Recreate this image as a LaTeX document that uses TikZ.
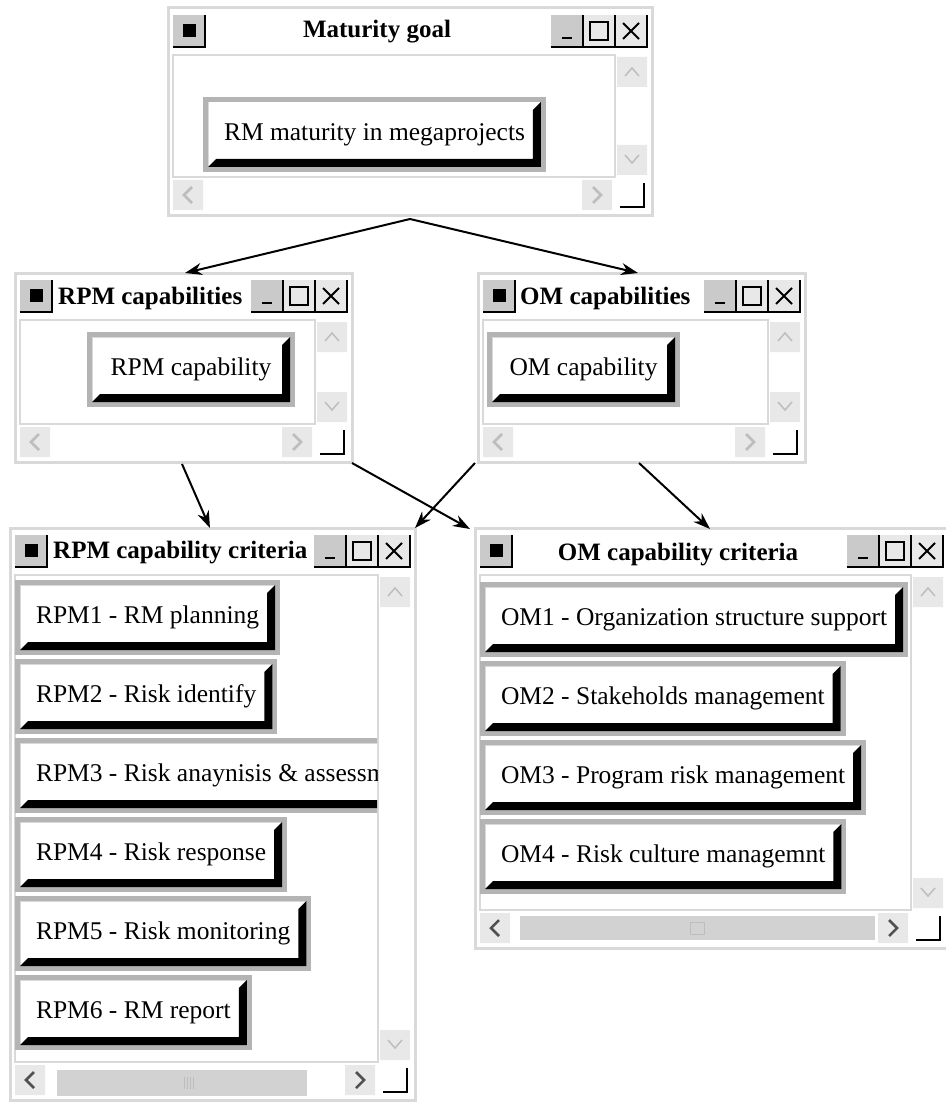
\documentclass[tikz,border=0pt]{standalone}
\usepackage{fontspec}
\setmainfont{Liberation Serif}
\usetikzlibrary{arrows.meta,positioning}
\definecolor{frmgray}{HTML}{D9D9D9}
\definecolor{btngray}{HTML}{B4B4B4}
\definecolor{scrgray}{HTML}{E8E8E8}
\definecolor{chvgray}{HTML}{BDBDBD}
\definecolor{thumbgray}{HTML}{D2D2D2}
\definecolor{darkchv}{HTML}{505050}

\tikzset{
  win/.style={draw=frmgray, line width=3, fill=white, anchor=north west, inner sep=0, outer sep=0},
  wintitle/.style={font=\fontsize{25}{28}\selectfont\bfseries, inner sep=0},
  btn/.style={fill=white, draw=white!85!black, line width=1, anchor=north west, outer sep=0,
    minimum height=65, inner xsep=16, inner ysep=0, font=\fontsize{25.5}{28}\selectfont},
  link/.style={-{Stealth[length=17,width=12]}, line width=2},
}

% window chrome in local coordinates: width, height, colour of < > marks
\newcommand{\winframe}[3]{%
  \fill[btngray!70] (5,7) rectangle (37,39); \fill (15,16) rectangle (28,29);
  \draw[line width=2.5] (5,39) -- (37,39) -- (37,7);
  \fill[btngray!70] (#1-101,7) rectangle (#1-69,39); \fill[scrgray] (#1-69,7) rectangle (#1-5,39);
  \draw[line width=2.5] (#1-101,39) -- (#1-5,39) -- (#1-5,7) (#1-69,7) -- (#1-69,39) (#1-37,7) -- (#1-37,39);
  \draw[line width=2.5] (#1-90,30) -- (#1-80,30);
  \draw[line width=1.5] (#1-62,14) rectangle (#1-44,32);
  \draw[line width=2] (#1-29,15) -- (#1-13,31) (#1-29,31) -- (#1-13,15);
  \draw[frmgray, line width=1.5] (5,47) rectangle (#1-37,#2-38);
  \fill[scrgray] (#1-35,49) rectangle (#1-5,79) (#1-35,#2-70) rectangle (#1-5,#2-40);
  \draw[chvgray, line width=1.5] (#1-27,68) -- (#1-20,60) -- (#1-13,68) (#1-27,#2-60) -- (#1-20,#2-52) -- (#1-13,#2-60);
  \fill[scrgray] (5,#2-35) rectangle (35,#2-5) (#1-70,#2-35) rectangle (#1-40,#2-5);
  \draw[#3, line width=2.5] (24,#2-28) -- (16,#2-20) -- (24,#2-12) (#1-59,#2-28) -- (#1-51,#2-20) -- (#1-59,#2-12);
  \draw[line width=2.5] (#1-32,#2-8) -- (#1-8,#2-8) -- (#1-8,#2-32);
}
% gray frame and black bevel round a button node
\newcommand{\btnedge}[1]{%
  \draw[btngray, line width=5] ([shift={(-2.5,-2.5)}]#1.north west) rectangle ([shift={(2.5,2.5)}]#1.south east);
  \fill (#1.south west) -- ++(8,-8) -| ([shift={(-8,8)}]#1.north east) -- (#1.north east) -- (#1.south east) -- cycle;
}

\begin{document}
\begin{tikzpicture}[x=1pt,y=-1pt]
\useasboundingbox (0,0) rectangle (945,1102);
% windows
\node[win, minimum width=484, minimum height=207] (wgoal) at (168,8) {};
\begin{scope}[shift={(168,8)}]\winframe{484}{207}{chvgray}\node[wintitle] (tgoal) at (209,24) {Maturity goal};\end{scope}
\node[win, minimum width=337, minimum height=189] (wrpm) at (15,273) {};
\begin{scope}[shift={(15,273)}]\winframe{337}{189}{chvgray}\node[wintitle, anchor=west] (trpm) at (43,25) {RPM capabilities};\end{scope}
\node[win, minimum width=327, minimum height=189] (wom) at (478,273) {};
\begin{scope}[shift={(478,273)}]\winframe{327}{189}{chvgray}\node[wintitle, anchor=west] (tom) at (42,25) {OM capabilities};\end{scope}
\node[win, minimum width=405, minimum height=572] (wrpmc) at (10,528) {};
\begin{scope}[shift={(10,528)}]\winframe{405}{572}{darkchv}
  \fill[thumbgray] (47,542) rectangle (297,568);
  \draw[chvgray] (174,549) -- (174,561) (177,549) -- (177,561) (180,549) -- (180,561) (183,549) -- (183,561);
  \node[wintitle, anchor=west] (trpmc) at (43,25) {RPM capability criteria};\end{scope}
\node[win, minimum width=473, minimum height=420] (womc) at (475,528) {};
\begin{scope}[shift={(475,528)}]\winframe{473}{420}{darkchv}
  \fill[thumbgray] (45,388) rectangle (400,412);
  \draw[chvgray] (215,394) rectangle (229,406);
  \node[wintitle] (tomc) at (203,27) {OM capability criteria};\end{scope}

% buttons
\node[btn, minimum width=332] (goal) at (208,102) {RM maturity in megaprojects}; \btnedge{goal}
\node[btn, minimum width=198] (rpmcap) at (92,337) {RPM capability}; \btnedge{rpmcap}
\node[btn, minimum width=183] (omcap) at (492,337) {OM capability}; \btnedge{omcap}

\node[btn] (rpm1) at (20,585) {RPM1 - RM planning}; \btnedge{rpm1}
\node[btn] (rpm2) at (20,664) {RPM2 - Risk identify}; \btnedge{rpm2}
\begin{scope}
\clip (15,575) rectangle (377,1062);
\node[btn] (rpm3) at (20,743) {RPM3 - Risk anaynisis \& assessment}; \btnedge{rpm3}
\end{scope}
\node[btn] (rpm4) at (20,822) {RPM4 - Risk response}; \btnedge{rpm4}
\node[btn] (rpm5) at (20,901) {RPM5 - Risk monitoring}; \btnedge{rpm5}
\node[btn] (rpm6) at (20,980) {RPM6 - RM report}; \btnedge{rpm6}

\node[btn] (om1) at (485,587) {OM1 - Organization structure support}; \btnedge{om1}
\node[btn] (om2) at (485,666) {OM2 - Stakeholds management}; \btnedge{om2}
\node[btn] (om3) at (485,745) {OM3 - Program risk management}; \btnedge{om3}
\node[btn] (om4) at (485,824) {OM4 - Risk culture managemnt}; \btnedge{om4}

% links between windows
\draw[link] ([shift={(242,4)}]wgoal.south west) -- ([shift={(170,0)}]wrpm.north west);
\draw[link] ([shift={(242,4)}]wgoal.south west) -- ([shift={(160,0)}]wom.north west);
\draw[link] ([shift={(167,2)}]wrpm.south west) -- ([shift={(200,0)}]wrpmc.north west);
\draw[link] ([shift={(0,1)}]wrpm.south east) -- ([shift={(-5,1)}]womc.north west);
\draw[link] ([shift={(-3,1)}]wom.south west) -- ([shift={(0,0)}]wrpmc.north east);
\draw[link] ([shift={(161,1)}]wom.south west) -- ([shift={(235,1)}]womc.north west);
\end{tikzpicture}
\end{document}
